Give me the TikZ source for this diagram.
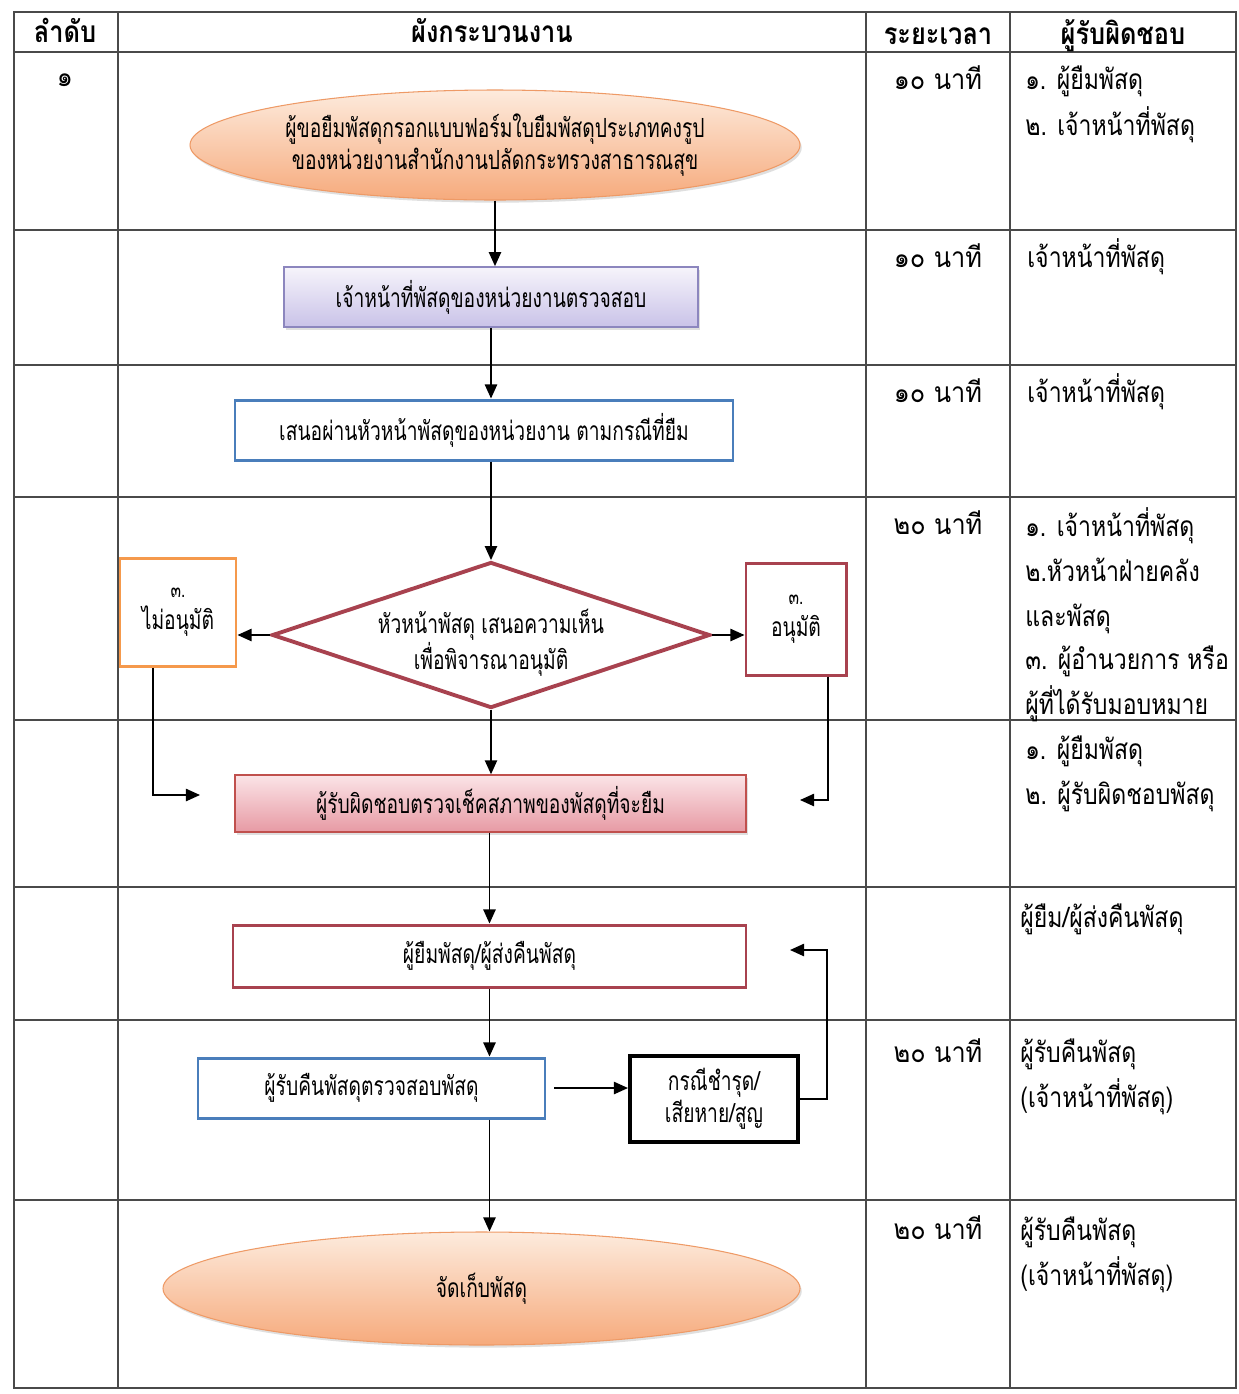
\documentclass[tikz,border=0pt]{standalone}
\usepackage{fontspec}
\newfontfamily\thaiflow[Script=Thai,FakeStretch=0.73]{Loma}
\newfontfamily\thaitab[Script=Thai,FakeStretch=0.82]{Loma}
\newfontfamily\thaitime[Script=Thai,FakeStretch=0.9]{Loma}
\newfontfamily\thaihead[Script=Thai,FakeStretch=0.85]{Loma}
\usetikzlibrary{arrows.meta,shapes.geometric,shadows}
\definecolor{gridc}{HTML}{4A4A4A}
\definecolor{peachT}{HTML}{FDEBDD}
\definecolor{peachB}{HTML}{F6AA7C}
\definecolor{peachD}{HTML}{EE9A66}
\definecolor{lavT}{HTML}{F6F4FB}
\definecolor{lavB}{HTML}{C9C2E8}
\definecolor{lavD}{HTML}{8C86BE}
\definecolor{blueD}{HTML}{4A7EBB}
\definecolor{wine}{HTML}{A8424F}
\definecolor{orangeD}{HTML}{F5994C}
\definecolor{pinkT}{HTML}{FBE4E7}
\definecolor{pinkB}{HTML}{E79AA4}
\definecolor{pinkD}{HTML}{C0504D}
\newcommand\lowerby[1]{\raisebox{-4.5pt}[\height][\depth]{#1}}
\begin{document}
\begin{tikzpicture}[x=0.02cm,y=-0.02cm,
  wh/.style 2 args={minimum width=#1*0.02cm, minimum height=#2*0.02cm},
  grid/.style={draw=gridc, line width=0.8pt},
  flowtxt/.style={font=\thaiflow\fontsize{15}{18}\selectfont, align=center, inner sep=0pt},
  tabtxt/.style={font=\thaitab\fontsize{16}{20}\selectfont, inner sep=0pt},
  timetxt/.style={font=\thaitime\fontsize{16}{20}\selectfont, inner sep=0pt},
  headtxt/.style={font=\thaihead\bfseries\fontsize{17}{20}\selectfont, inner sep=0pt},
  ellbox/.style={flowtxt, ellipse, draw=peachD, line width=0.6pt, top color=peachT, bottom color=peachB, drop shadow={opacity=0.25, shadow xshift=1pt, shadow yshift=-1.5pt}},
  lavbox/.style={flowtxt, rectangle, draw=lavD, line width=1pt, top color=lavT, bottom color=lavB, drop shadow={opacity=0.25, shadow xshift=1pt, shadow yshift=-1.5pt}},
  bluebox/.style={flowtxt, rectangle, draw=blueD, line width=1.7pt, fill=white},
  winebox/.style={flowtxt, rectangle, draw=wine, line width=1.7pt, fill=white},
  orangebox/.style={flowtxt, rectangle, draw=orangeD, line width=1.7pt, fill=white},
  pinkbox/.style={flowtxt, rectangle, draw=pinkD, line width=0.8pt, top color=pinkT, bottom color=pinkB, drop shadow={opacity=0.25, shadow xshift=1pt, shadow yshift=-1.5pt}},
  blackbox/.style={flowtxt, rectangle, draw=black, line width=2.3pt, fill=white},
  decision/.style={flowtxt, diamond, aspect=3, draw=wine, line width=2.2pt, fill=white},
  arr/.style={-{Triangle[length=8pt,width=7pt]}, line width=0.9pt, draw=black}
]
\useasboundingbox (0,0) rectangle (1239,1394);
\fill[white] (0,0) rectangle (1239,1394);

% ---- table grid ----
\draw[grid] (14,12) rectangle (1236,1388);
\foreach \yy in {52,230,365,497,720,887,1020,1200}
  \draw[grid] (14,\yy) -- (1236,\yy);
\foreach \xx in {118,866,1010}
  \draw[grid] (\xx,12) -- (\xx,1388);

% ---- header ----
\node[headtxt, anchor=base] (h1) at (65,42) {ลำดับ};
\node[headtxt, anchor=base] (h2) at (492,42) {ผังกระบวนงาน};
\node[headtxt, anchor=base] (h3) at (938,44) {ระยะเวลา};
\node[headtxt, anchor=base] (h4) at (1123,44) {ผู้รับผิดชอบ};

% ---- order column ----
\node[timetxt, anchor=base] (n1) at (65,86) {๑};

% ---- time column ----
\node[timetxt, anchor=base] (t1) at (938,89) {๑๐ นาที};
\node[timetxt, anchor=base] (t2) at (938,267) {๑๐ นาที};
\node[timetxt, anchor=base] (t3) at (938,402) {๑๐ นาที};
\node[timetxt, anchor=base] (t4) at (938,534) {๒๐ นาที};
\node[timetxt, anchor=base] (t7) at (938,1062) {๒๐ นาที};
\node[timetxt, anchor=base] (t8) at (938,1239) {๒๐ นาที};

% ---- responsible column ----
\node[tabtxt, anchor=base west] (r1a) at (1025,89) {๑. ผู้ยืมพัสดุ};
\node[tabtxt, anchor=base west] (r1b) at (1025,135) {๒. เจ้าหน้าที่พัสดุ};
\node[tabtxt, anchor=base west] (r2) at (1027,267) {เจ้าหน้าที่พัสดุ};
\node[tabtxt, anchor=base west] (r3) at (1027,402) {เจ้าหน้าที่พัสดุ};
\node[tabtxt, anchor=base west] (r4a) at (1025,536) {๑. เจ้าหน้าที่พัสดุ};
\node[tabtxt, anchor=base west] (r4b) at (1025,581) {๒.หัวหน้าฝ่ายคลัง};
\node[tabtxt, anchor=base west] (r4c) at (1025,626) {และพัสดุ};
\node[tabtxt, anchor=base west] (r4d) at (1025,669) {๓. ผู้อำนวยการ หรือ};
\node[tabtxt, anchor=base west] (r4e) at (1025,714) {ผู้ที่ได้รับมอบหมาย};
\node[tabtxt, anchor=base west] (r5a) at (1025,759) {๑. ผู้ยืมพัสดุ};
\node[tabtxt, anchor=base west] (r5b) at (1025,804) {๒. ผู้รับผิดชอบพัสดุ};
\node[tabtxt, anchor=base west] (r6) at (1020,927) {ผู้ยืม/ผู้ส่งคืนพัสดุ};
\node[tabtxt, anchor=base west] (r7a) at (1020,1062) {ผู้รับคืนพัสดุ};
\node[tabtxt, anchor=base west] (r7b) at (1020,1107) {(เจ้าหน้าที่พัสดุ)};
\node[tabtxt, anchor=base west] (r8a) at (1020,1240) {ผู้รับคืนพัสดุ};
\node[tabtxt, anchor=base west] (r8b) at (1020,1285) {(เจ้าหน้าที่พัสดุ)};

% ---- flowchart nodes ----
\node[ellbox, wh={610}{110}] (start) at (495,145)
  {ผู้ขอยืมพัสดุกรอกแบบฟอร์มใบยืมพัสดุประเภทคงรูป\\ของหน่วยงานสำนักงานปลัดกระทรวงสาธารณสุข};
\node[lavbox, wh={414}{60}] (check) at (491,297) {เจ้าหน้าที่พัสดุของหน่วยงานตรวจสอบ};
\node[bluebox, wh={498}{60}] (propose) at (484,430) {เสนอผ่านหัวหน้าพัสดุของหน่วยงาน ตามกรณีที่ยืม};
\node[decision, wh={438}{146}] (dec) at (491,635) {\lowerby{หัวหน้าพัสดุ เสนอความเห็น}\\\lowerby{เพื่อพิจารณาอนุมัติ}};
\node[orangebox, wh={116}{108}] (no) at (178,612) {{\fontsize{12}{14}\selectfont ๓.}\\ไม่อนุมัติ};
\node[winebox, wh={100}{112}] (yes) at (796,619) {{\fontsize{12}{14}\selectfont ๓.}\\อนุมัติ};
\node[pinkbox, wh={511}{57}] (inspect) at (490.5,803.5) {ผู้รับผิดชอบตรวจเช็คสภาพของพัสดุที่จะยืม};
\node[winebox, wh={513}{62}] (borrow) at (489.5,956) {ผู้ยืมพัสดุ/ผู้ส่งคืนพัสดุ};
\node[bluebox, wh={347}{60}] (receive) at (371.5,1088) {ผู้รับคืนพัสดุตรวจสอบพัสดุ};
\node[blackbox, wh={168}{86}] (damage) at (714,1099) {กรณีชำรุด/\\เสียหาย/สูญ};
\node[ellbox, wh={637}{113}] (store) at (481.5,1288.5) {จัดเก็บพัสดุ};

\coordinate (noEnd) at (200,795);
\coordinate (yesEnd) at (800,800);
\coordinate (loopEnd) at (790,950);

% ---- connectors ----
\draw[arr] (start.south) -- (start.south |- check.north);
\draw[arr] (check.south) -- (check.south |- propose.north);
\draw[arr] (propose.south -| dec.north) -- (dec.north);
\draw[arr] (dec.west) -- (dec.west -| no.east);
\draw[arr] (dec.east) -- (dec.east -| yes.west);
\draw[arr] ([xshift=-0.5cm]no.south) |- (noEnd);
\draw[arr] ([xshift=0.64cm]yes.south) |- (yesEnd);
\draw[arr] (dec.south) -- (dec.south |- inspect.north);
\draw[arr] (inspect.south -| borrow.north) -- (borrow.north);
\draw[arr] (borrow.south) -- (borrow.south |- receive.north);
\draw[arr, shorten <=0.16cm] (receive.east) -- (receive.east -| damage.west);
\draw[arr] (damage.east) -- ++(27,0) |- (loopEnd);
\draw[arr] (borrow.south |- receive.south) -- (borrow.south |- store.north);
\end{tikzpicture}
\end{document}
